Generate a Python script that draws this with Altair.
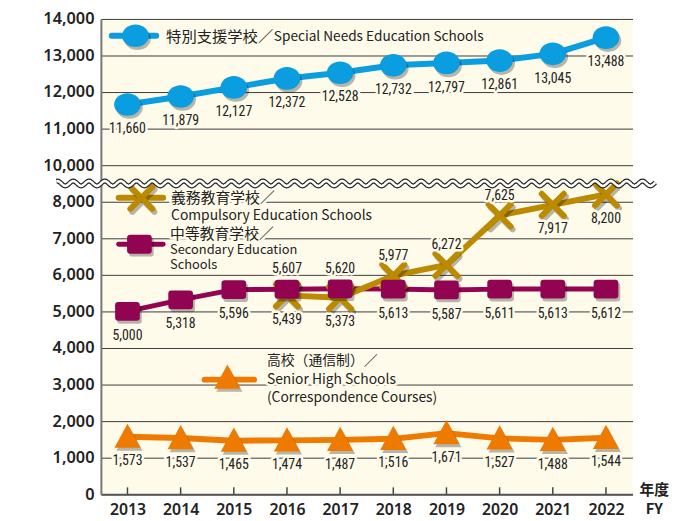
import altair as alt
import pandas as pd

# ---------------- data ----------------
years = ["2013", "2014", "2015", "2016", "2017", "2018", "2019", "2020", "2021", "2022"]
special_needs = [11660, 11879, 12127, 12372, 12528, 12732, 12797, 12861, 13045, 13488]
compulsory = [None, None, None, 5439, 5373, 5977, 6272, 7625, 7917, 8200]
secondary = [5000, 5318, 5596, 5607, 5620, 5613, 5587, 5611, 5613, 5612]
senior_high = [1573, 1537, 1465, 1474, 1487, 1516, 1671, 1527, 1488, 1544]
y_tick_labels = [0, 1000, 2000, 3000, 4000, 5000, 6000, 7000, 8000, 10000, 11000, 12000, 13000, 14000]

labels_above = {"compulsory": ["2018", "2019", "2020"], "secondary": ["2016", "2017"]}

series_values = {
    "special": special_needs,
    "compulsory": compulsory,
    "secondary": secondary,
    "senior": senior_high,
}

rows = []
for key, vals in series_values.items():
    for yr, v in zip(years, vals):
        if v is None:
            continue
        rows.append({"series": key, "year": yr, "value": v,
                     "above": yr in labels_above.get(key, [])})
df = pd.DataFrame(rows)

# ---------------- styles ----------------
BG = "#FEFBEA"
TXT = "#222222"
COL = {"special": "#0A9DE0", "compulsory": "#BC8A00", "secondary": "#920452", "senior": "#EF7A00"}
NUM_FONT = "Liberation Sans Narrow, Roboto Condensed, DejaVu Sans Condensed, sans-serif"
JP_FONT = "Noto Sans CJK JP"
AX_FONT = "Noto Sans"

W, H = 538, 481

ELLIPSE = "M-1,0 A1,0.85 0 1,0 1,0 A1,0.85 0 1,0 -1,0 Z"
RSQUARE = ("M-0.74,-0.76 L0.74,-0.76 Q1,-0.76 1,-0.5 L1,0.5 Q1,0.76 0.74,0.76 "
           "L-0.74,0.76 Q-1,0.76 -1,0.5 L-1,-0.5 Q-1,-0.76 -0.74,-0.76 Z")
XSHAPE = "M-1,-1 L1,1 M-1,1 L1,-1"
TRI = "M0,-1 L1,0.85 L-1,0.85 Z"

SHAPES = {
    "special": dict(shape=ELLIPSE, size=729, filled=True),
    "secondary": dict(shape=RSQUARE, size=625, filled=True),
    "compulsory": dict(shape=XSHAPE, size=500, filled=False, strokeWidth=6),
    "senior": dict(shape=TRI, size=700, filled=True),
}
LINE_W = {"special": 6, "secondary": 5, "compulsory": 6, "senior": 6}

# axis positions below the break are shown as-is; above it they read 1,000 higher
ylabel_expr = "format(datum.value >= 9000 ? datum.value + 1000 : datum.value, ',')"

XSCALE = alt.Scale(type="point", padding=0.5)
YSCALE = alt.Scale(domain=[0, 13000], nice=False)

X_AXIS = alt.Axis(title=None, labelAngle=0, ticks=False, grid=False,
                  domainColor="#555555", domainWidth=2, labelFontSize=16,
                  labelFont=AX_FONT, labelColor=TXT, labelPadding=7,
                  labelFontWeight=600, labelOverlap=False)
Y_AXIS = alt.Axis(title=None, values=list(range(0, 13001, 1000)), tickCount=14,
                  labelExpr=ylabel_expr, ticks=False, grid=True,
                  gridColor="#3a3a3a", gridWidth=1, domainColor="#777777",
                  domainWidth=2, labelFontSize=16.5, labelFont=AX_FONT,
                  labelColor=TXT, labelPadding=7, labelFontWeight=600,
                  labelOverlap=False, labelFlush=False)
X = alt.X("year:O", scale=XSCALE, axis=X_AXIS)
Y = alt.Y("yv:Q", scale=YSCALE, axis=Y_AXIS)

base = alt.Chart(df).transform_calculate(
    yv="datum.value >= 10000 ? datum.value - 1000 : datum.value")


def ser(key):
    return base.transform_filter(alt.datum.series == key)


layers = []

# axes holder
layers.append(base.mark_point(opacity=0).encode(x=X, y=Y))
# inward x ticks
layers.append(ser("senior").mark_rule(color="#444444", strokeWidth=1.5).encode(
    x=X, y=alt.value(H), y2=alt.value(H - 7)))

# lines
for key in ["special", "senior", "secondary", "compulsory"]:
    layers.append(ser(key).mark_line(color=COL[key], strokeWidth=LINE_W[key],
                                     strokeCap="round", strokeJoin="round").encode(x=X, y=Y))


def marker(key, src, xenc, yenc, shadow=True):
    out = []
    sp = SHAPES[key]
    kw = dict(shape=sp["shape"], size=sp["size"], filled=sp["filled"])
    if not sp["filled"]:
        kw.update(strokeWidth=sp["strokeWidth"], strokeCap="round")
    if shadow:
        out.append(src.mark_point(color="#000000", opacity=0.28, **kw).encode(
            x=xenc, y=yenc, xOffset=alt.value(2), yOffset=alt.value(3)))
    out.append(src.mark_point(color=COL[key], opacity=1, **kw).encode(x=xenc, y=yenc))
    return out


# markers
for key in ["senior", "special", "compulsory", "secondary"]:
    layers += marker(key, ser(key), X, Y)

# value labels
for key in ["special", "senior", "secondary", "compulsory"]:
    for above in [False, True]:
        src = ser(key).transform_filter(alt.datum.above == above)
        dy = -20 if above else 25
        enc = dict(x=X, y=Y, text=alt.Text("value:Q", format=","))
        layers.append(src.mark_text(font=NUM_FONT, fontSize=14, dy=dy, fill=BG, stroke=BG,
                                    strokeWidth=5, strokeJoin="round").encode(**enc))
        layers.append(src.mark_text(font=NUM_FONT, fontSize=14, dy=dy, color=TXT).encode(**enc))

# legend (pixel positions inside the plot area)
one = alt.Chart(pd.DataFrame({"k": [0]}))
legend_items = [
    # key, line x1, x2, y, marker x, marker y, [(text, x, y, size)]
    ("special", 11, 56, 17, 35, 17, [("特別支援学校／", 66, 18, 15.5),
                                     ("Special Needs Education Schools", 175, 18, 13.8)]),
    ("compulsory", 18, 63, 181, 41, 181, [("義務教育学校／", 71, 181, 15),
                                          ("Compulsory Education Schools", 71, 199, 14)]),
    ("secondary", 18, 63, 228, 39, 228, [("中等教育学校／", 70, 218, 15),
                                         ("Secondary Education", 70, 234, 13),
                                         ("Schools", 70, 249, 13)]),
    ("senior", 105, 155, 365, 128, 363, [("高校（通信制）／", 168, 346, 14),
                                         ("Senior High Schools", 168, 365, 14),
                                         ("(Correspondence Courses)", 168, 384, 14)]),
]
for key, lx1, lx2, ly, mx, my, texts in legend_items:
    layers.append(one.mark_rule(color=COL[key], strokeWidth=LINE_W[key], strokeCap="round").encode(
        x=alt.value(lx1), x2=alt.value(lx2), y=alt.value(ly)))
    layers += marker(key, one, alt.value(mx), alt.value(my))
    for t, tx, ty, fs in texts:
        layers.append(one.mark_text(text=t, font=JP_FONT, fontSize=fs, align="left",
                                    baseline="middle", fill=BG, stroke=BG, strokeWidth=5,
                                    strokeJoin="round").encode(x=alt.value(tx), y=alt.value(ty)))
        layers.append(one.mark_text(text=t, font=JP_FONT, fontSize=fs, align="left",
                                    baseline="middle", color=TXT).encode(x=alt.value(tx), y=alt.value(ty)))

# FY label
for t, ty in [("年度", 477), ("FY", 496)]:
    layers.append(one.mark_text(text=t, font=JP_FONT, fontSize=15, fontWeight="bold",
                                align="center", baseline="middle", color=TXT).encode(
        x=alt.value(560), y=alt.value(ty)))

main = alt.layer(*layers)

# axis break wave (pixel x, data y)
wave = alt.Chart(alt.sequence(-45, 562, 1, as_="px")).transform_calculate(
    wy="8500 + 67 * sin(2 * PI * datum.px / 16)")
wx = alt.X("px:Q", scale=None, axis=None)
wy = alt.Y("wy:Q", scale=YSCALE, axis=None)
wave_layer = alt.layer(
    wave.mark_line(color="#222222", strokeWidth=5).encode(x=wx, y=wy, order="px:Q"),
    wave.mark_line(color="#ffffff", strokeWidth=2.6).encode(x=wx, y=wy, order="px:Q"),
)

chart = alt.layer(main, wave_layer).resolve_scale(
    x="independent", y="shared").resolve_axis(x="independent", y="independent").properties(
    width=W, height=H,
    autosize=alt.AutoSizeParams(type="none"),
    padding={"left": 94, "top": 8, "right": 46, "bottom": 24},
    background="#ffffff",
).configure_view(fill=BG, stroke=None)

chart.save("out.html", embed_options={"renderer": "svg", "actions": False})
